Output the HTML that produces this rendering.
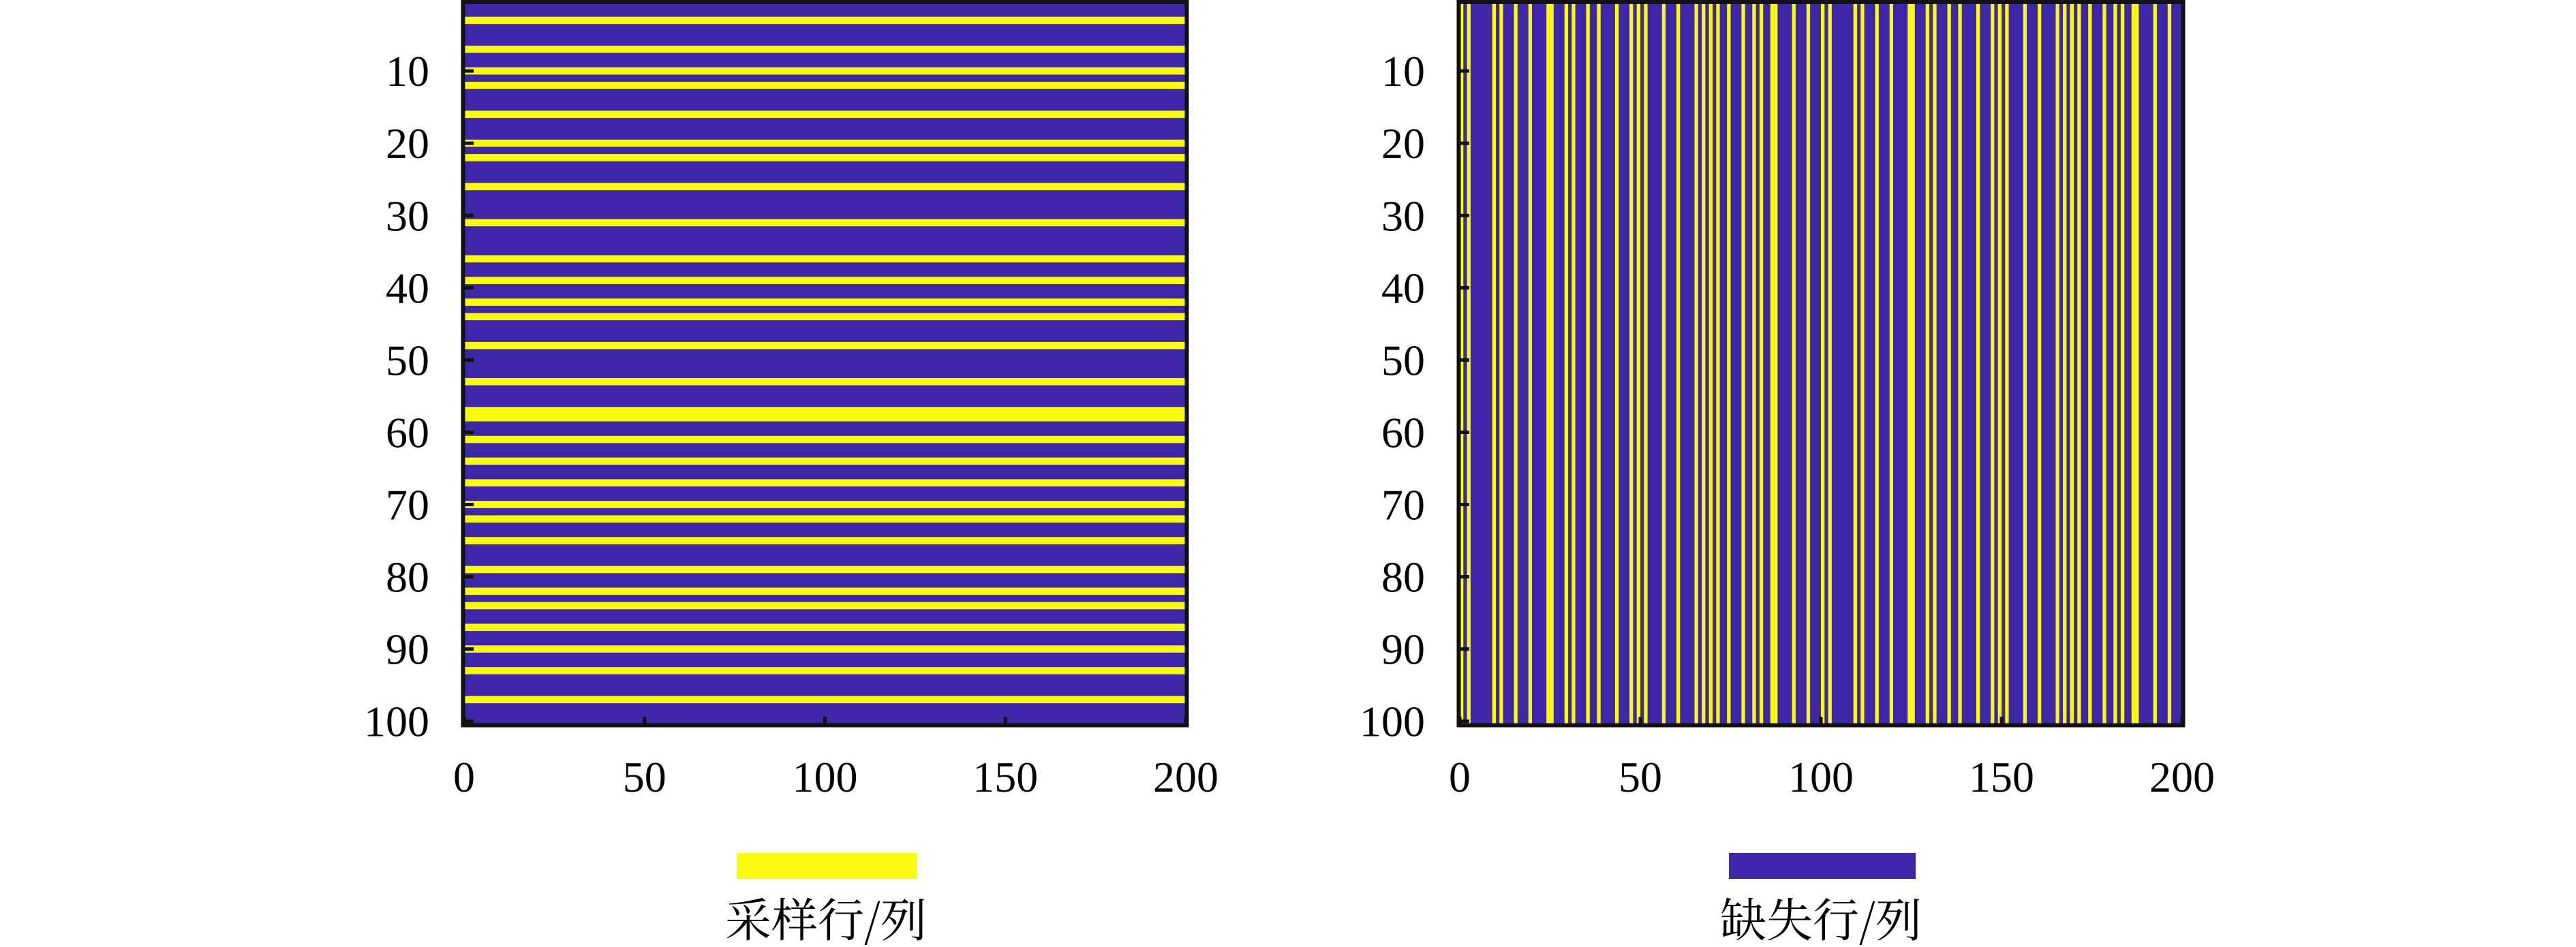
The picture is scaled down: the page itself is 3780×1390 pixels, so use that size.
<!DOCTYPE html>
<html><head><meta charset="utf-8"><style>
html,body{margin:0;padding:0;background:#fff;}
svg{display:block;}
text{font-family:"Liberation Serif","Noto Serif CJK SC",serif;fill:#000;}
</style></head><body>
<svg id="chart" width="3780" height="1390" viewBox="0 0 3780 1390" xmlns="http://www.w3.org/2000/svg"></svg>
<script>
// ---- data ----
var sampledRows = [3,7,10,12,16,20,22,26,31,36,39,42,44,48,53,57,58,61,64,67,70,72,75,79,82,84,87,90,93,97];
var sampledCols = [1,3,10,12,16,20,25,26,30,32,36,39,44,48,50,52,57,61,66,68,70,72,75,79,82,84,87,88,93,97,
                   101,103,110,112,116,120,125,126,130,132,136,139,144,148,150,152,157,161,166,168,170,172,175,179,182,184,187,188,193,197];
var yTickValues = [10,20,30,40,50,60,70,80,90,100];
var yTickLabels = ["10","20","30","40","50","60","70","80","90","100"];
var xTickValues = [0,50,100,150,200];
var xTickLabels = ["0","50","100","150","200"];
var nRows = 100, nCols = 200;

var NS = "http://www.w3.org/2000/svg";
var svg = document.getElementById('chart');
var PURPLE = "#3e26a8", YELLOW = "#f9fb0e";
function mk(tag, attrs, parent){ var e=document.createElementNS(NS,tag); for(var k in attrs) e.setAttribute(k,attrs[k]); (parent||svg).appendChild(e); return e; }

function panel(x0, x1, y0, y1, mode, name){
  var g = mk('g', {});
  
  
  var rowH = (y1 - y0) / nRows, colW = (x1 - x0) / nCols;
  function yRow(r){ return y0 + (r - 1) * rowH; }
  function xCol(c){ return x0 + (c - 1) * colW; }
  function yTick(v){ return y0 + (v - 0.5) * rowH; }
  function xTick(v){ return x0 + v / nCols * (x1 - x0); }
  var bg = mk('rect', {x:x0, y:y0, width:x1-x0, height:y1-y0, fill:PURPLE}, g);
  
  
  if (mode === 'rows') {
    sampledRows.forEach(function(r){
      var e = mk('rect', {x:x0, y:yRow(r), width:x1-x0, height:rowH, fill:YELLOW}, g);
      
      
    });
  } else {
    sampledCols.forEach(function(c){
      var e = mk('rect', {x:xCol(c), y:y0, width:colW, height:y1-y0, fill:YELLOW}, g);
      
      
    });
  }
  var fr = mk('rect', {x:x0-1.5, y:y0-0.5, width:x1-x0+3, height:y1-y0+1, fill:'none', stroke:'#111', 'stroke-width':6}, g);
  
  
  yTickValues.forEach(function(v, i){
    var y = yTick(v);
    var t = mk('line', {x1:x0, x2:x0+14, y1:y, y2:y, stroke:'#111', 'stroke-width':5}, g);
    
    
    var l = mk('text', {x:x0-51, y:y+22, 'font-size':64, 'text-anchor':'end'}, g);
    l.textContent = yTickLabels[i];
    
    
  });
  xTickValues.forEach(function(v, i){
    var x = xTick(v);
    var t = mk('line', {x1:x, x2:x, y1:y1, y2:y1-12, stroke:'#111', 'stroke-width':5}, g);
    
    
    var l = mk('text', {x:x, y:1162, 'font-size':64, 'text-anchor':'middle'}, g);
    l.textContent = xTickLabels[i];
    
    
  });
}
panel(681, 1740, 3.4, 1064, 'rows', 'sampled-rows-panel');
panel(2142, 3202, 3.4, 1064, 'cols', 'sampled-cols-panel');

function legend(x, w, color, label, cx, name){
  var g = mk('g', {});
  
  
  var s = mk('rect', {x:x, y:1252, width:w, height:38, fill:color}, g);
  
  
  var t = mk('text', {x:cx, y:1375, 'font-size':68, 'text-anchor':'middle'}, g);
  t.setAttribute('style', 'font-family:"Noto Serif CJK SC","Liberation Serif",serif');
  t.textContent = label;
  
  
}
legend(1081, 264, YELLOW, "采样行/列", 1212, 'legend-sampled');
legend(2537, 274, PURPLE, "缺失行/列", 2672, 'legend-missing');
</script>
</body></html>
